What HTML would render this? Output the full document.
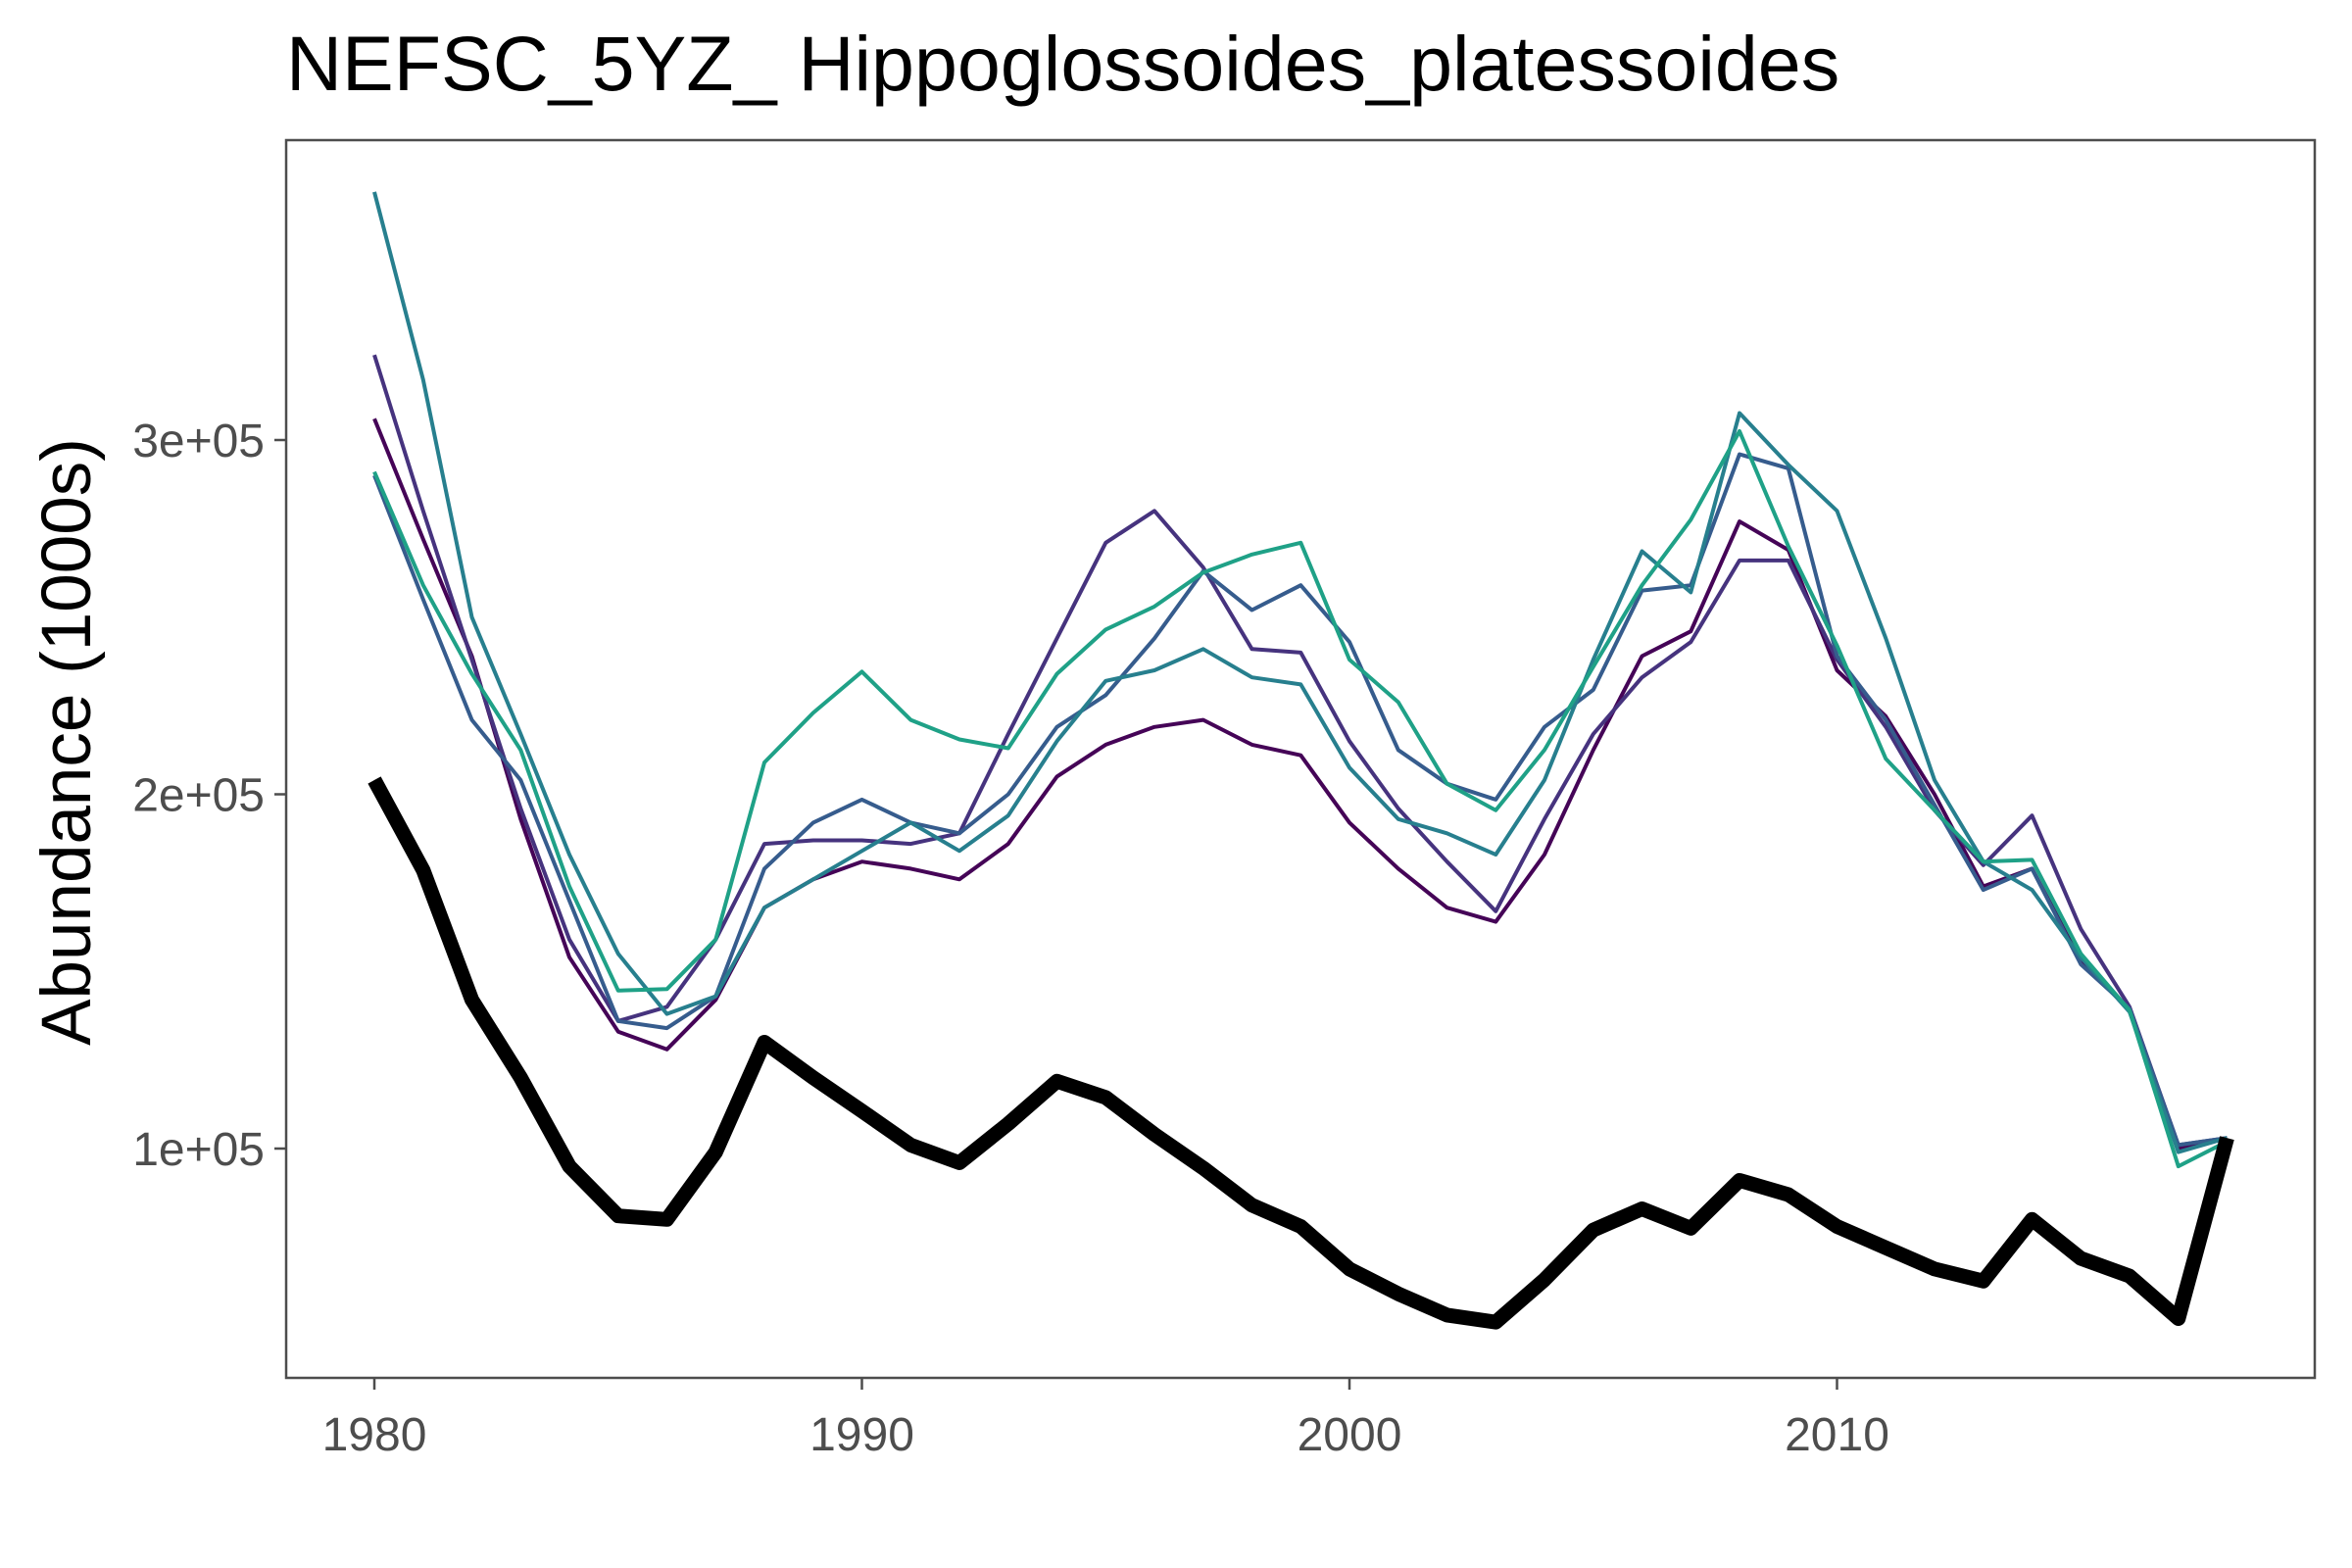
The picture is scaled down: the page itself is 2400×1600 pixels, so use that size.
<!DOCTYPE html>
<html><head><meta charset="utf-8">
<style>
html,body{margin:0;padding:0;background:#fff;}
svg{display:block;font-family:"Liberation Sans",Arial,sans-serif;}
</style></head>
<body>
<svg id="chart" width="2400" height="1600" viewBox="0 0 2400 1600">
  <rect x="0" y="0" width="2400" height="1600" fill="#fff"/>
  <text x="292" y="92" font-size="79" fill="#000">NEFSC_5YZ_ Hippoglossoides_platessoides</text>
  <text transform="translate(92,757) rotate(-90)" text-anchor="middle" font-size="71" fill="#000">Abundance (1000s)</text>
  <g id="axes"></g>
  <g id="series"></g>
  <rect x="292" y="143" width="2070" height="1263" fill="none" stroke="#4d4d4d" stroke-width="2.5"/>
</svg>
<script>
const years = [];
for (let y = 1980; y <= 2018; y++) years.push(y);
const seriesObserved = [204,178.6,142,120,95,81,80,99,130,120,110.6,101,96,107,119,114.4,104,94.5,84,78,66,59,53,51,63,77,83,77.5,91,87,78,72,66,62.6,80,69,64,52,103];
const seriesA = [306,272,239,193,154,133,128,142,168,176,181,179,176,186,205,214,219,221,214,211,192,179,168,164,183,212.5,239,246,277,269,235,222,200,174,179,153,139,100,103];
const seriesB = [324,280,238,196,159,136,140,159,186,187,187,186,189,217,244,271,280,264,241,240,215,196,181,167,193,217,233,243,266,266,238,219,195.5,180,194,162,140,101,103];
const seriesC = [290,255,221,204,170,136,134,143,179,192,198.5,192,189,200,219,228,244,263,252,259,243,212.5,203,198.5,219,229.5,257.5,259,296,292,239,221,197,173,179,152,139.5,101,103];
const seriesD = [370,317,250,217,183,155,138,143,168,176,184,192,184,194,215,232,235,241,233,231,207.5,193,189,183,204,238,268.6,257,307.6,293,280,244,204,181,173,154,138.6,99,103];
const seriesE = [291,259,234,212.5,174,144.6,145,159,209,223,234.6,221,215.5,213,234,246.5,253,262.6,267.7,271,238,226,203,195.5,212.5,236,259,277.5,302.5,270,242,210,195.5,181,181.5,155,139,95,102];
const yTickValues = [100,200,300];
const yTickLabels = ["1e+05","2e+05","3e+05"];
const xTickValues = [1980,1990,2000,2010];
const xTickLabels = ["1980","1990","2000","2010"];

const NS = "http://www.w3.org/2000/svg";
function xScale(yr){ return 382 + (yr - 1980) * 49.75; }
function yScale(v){ return 1172 - (v - 100) * 3.615; }

const axes = document.getElementById("axes");
yTickValues.forEach((v,i)=>{
  const t = document.createElementNS(NS,"line");
  t.setAttribute("x1",280); t.setAttribute("x2",292);
  t.setAttribute("y1",yScale(v)); t.setAttribute("y2",yScale(v));
  t.setAttribute("stroke","#4d4d4d"); t.setAttribute("stroke-width","2.5");
  
  
  axes.appendChild(t);
  const l = document.createElementNS(NS,"text");
  l.setAttribute("x",270); l.setAttribute("y",yScale(v)+17);
  l.setAttribute("text-anchor","end"); l.setAttribute("font-size","48"); l.setAttribute("fill","#4d4d4d");
  l.textContent = yTickLabels[i];
  
  
  axes.appendChild(l);
});
xTickValues.forEach((v,i)=>{
  const t = document.createElementNS(NS,"line");
  t.setAttribute("x1",xScale(v)); t.setAttribute("x2",xScale(v));
  t.setAttribute("y1",1406); t.setAttribute("y2",1418);
  t.setAttribute("stroke","#4d4d4d"); t.setAttribute("stroke-width","2.5");
  
  
  axes.appendChild(t);
  const l = document.createElementNS(NS,"text");
  l.setAttribute("x",xScale(v)); l.setAttribute("y",1480);
  l.setAttribute("text-anchor","middle"); l.setAttribute("font-size","48"); l.setAttribute("fill","#4d4d4d");
  l.textContent = xTickLabels[i];
  
  
  axes.appendChild(l);
});

const g = document.getElementById("series");
function drawLine(vals, color, width, name){
  const p = document.createElementNS(NS,"polyline");
  p.setAttribute("points", vals.map((v,i)=>xScale(years[i]).toFixed(1)+","+yScale(v).toFixed(1)).join(" "));
  p.setAttribute("fill","none"); p.setAttribute("stroke",color);
  p.setAttribute("stroke-width",width); p.setAttribute("stroke-linejoin","round");
  
  
  g.appendChild(p);
}
drawLine(seriesA,"#450457",4,"series-line-a");
drawLine(seriesB,"#46337e",4,"series-line-b");
drawLine(seriesC,"#365c8d",4,"series-line-c");
drawLine(seriesD,"#277f8e",4,"series-line-d");
drawLine(seriesE,"#1fa187",4,"series-line-e");
drawLine(seriesObserved,"#000",15,"observed-line");
</script>
</body></html>
